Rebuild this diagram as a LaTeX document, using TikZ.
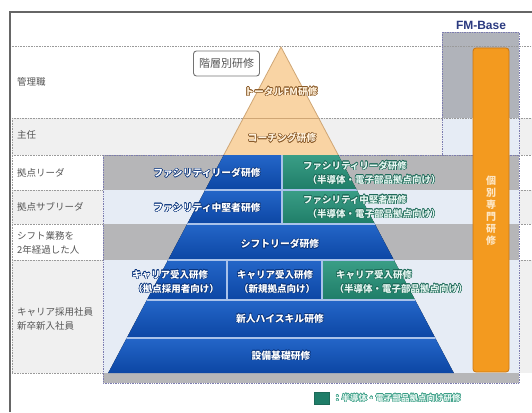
\documentclass[tikz,border=0pt]{standalone}
\usepackage{fontspec}
\setmainfont{Noto Sans CJK JP}
\newfontfamily\latf{Liberation Sans}
\usepackage{contour}
\contourlength{0.5pt}
\contournumber{16}
\usetikzlibrary{calc}
\definecolor{bluT}{HTML}{2466C8}
\definecolor{bluB}{HTML}{0C46A4}
\definecolor{bluO}{HTML}{0A357E}
\definecolor{grnT}{HTML}{3A9E86}
\definecolor{grnB}{HTML}{1F7D68}
\definecolor{grnO}{HTML}{1C6A58}
\definecolor{grnL}{HTML}{E6F6F1}
\definecolor{peach}{HTML}{F9D4A4}
\definecolor{peachline}{HTML}{CFA675}
\definecolor{peachO}{HTML}{8A5A28}
\definecolor{peachL}{HTML}{FFF1DC}
\definecolor{gstripe}{HTML}{B6B6B8}
\definecolor{lstripe}{HTML}{E6ECF5}
\definecolor{lrow}{HTML}{F0F0F0}
\definecolor{fmgray}{HTML}{B0B3BA}
\definecolor{dotc}{HTML}{7C7CB0}
\definecolor{dotg}{HTML}{9A9A9A}
\definecolor{orangeF}{HTML}{F39A1F}
\definecolor{orangeD}{HTML}{C97612}
\definecolor{orangeL}{HTML}{FDE6C4}
\definecolor{navy}{HTML}{2B3A80}
\definecolor{lbl}{HTML}{555555}
\definecolor{sepc}{HTML}{A9C2EA}
\begin{document}
\begin{tikzpicture}[x=1pt,y=-1pt,
  lbltxt/.style={anchor=west,inner sep=0,text=lbl,font=\fontsize{9.5}{14}\selectfont,align=left},
  btxt/.style={inner sep=0,text=white,font=\bfseries\fontsize{9.8}{11}\selectfont},
  gtxt/.style={inner sep=0,text=grnL,font=\bfseries\fontsize{9.5}{11}\selectfont},
  ptxt/.style={inner sep=0,text=peachL,font=\bfseries\fontsize{9.8}{11}\selectfont},
  dotline/.style={dotg,densely dotted,line width=0.6pt},
  dotbox/.style={dotc,densely dotted,line width=0.7pt},
  sepline/.style={sepc,line width=1.1pt}]
\useasboundingbox (0,0) rectangle (532,412);
% ---------- background rows ----------
\fill[lrow] (12,118) rectangle (532,155);
\fill[lrow] (12,190) rectangle (103,224);
\fill[lrow] (12,260) rectangle (103,373);
\fill[lrow] (519,190) rectangle (532,224);
\fill[lrow] (519,260) rectangle (532,373);
\fill[gstripe] (103,155) rectangle (519,190);
\fill[lstripe] (103,190) rectangle (519,224);
\fill[gstripe] (103,224) rectangle (519,260);
\fill[lstripe] (103,260) rectangle (519,373);
\fill[gstripe] (103,373) rectangle (519,383);
\fill[fmgray] (442,32) rectangle (519,118);
\fill[lstripe] (442,118) rectangle (519,155);
% ---------- dotted rules ----------
\draw[dotline] (10,46) -- (532,46);
\draw[dotline] (12,118) -- (532,118);
\draw[dotline] (12,155) -- (532,155);
\foreach \yy in {190,224,260} {
  \draw[dotline] (12,\yy) -- (103,\yy);
  \draw[dotline] (519,\yy) -- (532,\yy);
}
\draw[dotline] (12,373) -- (103,373);
\draw[dotline] (12,118) -- (12,373);
\draw[dotbox] (103,155) rectangle (519,383);
\draw[dotbox] (442,155) -- (442,32) -- (519,32) -- (519,155);
% ---------- outer frame ----------
\draw[line width=1.4pt,black!60] (10,412) -- (10,12) -- (532,12);
% ---------- pyramid ----------
\coordinate (apex) at (281,47);
\coordinate (bl) at (108.2,373);
\coordinate (br) at (453.8,373);
\begin{scope}
  \clip (apex) -- (bl) -- (br) -- cycle;
  \fill[peach] (100,40) rectangle (460,155);
  \fill[top color=bluT,bottom color=bluB] (100,155) rectangle (282,190);
  \fill[top color=grnT,bottom color=grnB] (282,155) rectangle (460,190);
  \fill[top color=bluT,bottom color=bluB] (100,190) rectangle (282,224);
  \fill[top color=grnT,bottom color=grnB] (282,190) rectangle (460,224);
  \fill[top color=bluT,bottom color=bluB] (100,224) rectangle (460,260);
  \fill[top color=bluT,bottom color=bluB] (100,260) rectangle (322,300);
  \fill[top color=grnT,bottom color=grnB] (322,260) rectangle (460,300);
  \fill[top color=bluT,bottom color=bluB] (100,300) rectangle (460,338);
  \fill[top color=bluT,bottom color=bluB] (100,338) rectangle (460,373);
  \draw[peachline,line width=0.8pt] (100,118) -- (460,118);
  \foreach \yy in {190,224,260,300,338} \draw[sepline] (100,\yy) -- (460,\yy);
  \draw[sepline] (282,155) -- (282,224);
  \draw[sepline] (227,260) -- (227,300);
  \draw[sepline] (322,260) -- (322,300);
\end{scope}
\draw[peachline,line width=0.8pt] (223.8,155) -- (apex) -- (338.2,155);
% ---------- pyramid texts ----------
\node[ptxt] (p1) at (281,92) {\contour{peachO}{トータルFM研修}};
\node[ptxt] (p2) at (282,138) {\contour{peachO}{コーチング研修}};
\node[btxt] (b1) at (207,173) {\contour{bluO}{ファシリティリーダ研修}};
\node[gtxt] (g1a) at (355,166) {\contour{grnO}{ファシリティリーダ研修}};
\node[gtxt] (g1b) at (374,180) {\contour{grnO}{（半導体・電子部品拠点向け）}};
\node[btxt] (b2) at (207,208) {\contour{bluO}{ファシリティ中堅者研修}};
\node[gtxt] (g2a) at (355,200) {\contour{grnO}{ファシリティ中堅者研修}};
\node[gtxt] (g2b) at (374,214) {\contour{grnO}{（半導体・電子部品拠点向け）}};
\node[btxt] (b3) at (280,244) {\contour{bluO}{シフトリーダ研修}};
\node[btxt,font=\bfseries\fontsize{9.5}{11}\selectfont] (c1a) at (170,275) {\contour{bluO}{キャリア受入研修}};
\node[btxt,font=\bfseries\fontsize{9.5}{11}\selectfont] (c1b) at (176,289) {\contour{bluO}{（拠点採用者向け）}};
\node[btxt,font=\bfseries\fontsize{9.5}{11}\selectfont] (c2a) at (275,275) {\contour{bluO}{キャリア受入研修}};
\node[btxt,font=\bfseries\fontsize{9.5}{11}\selectfont] (c2b) at (277,289) {\contour{bluO}{（新規拠点向け）}};
\node[gtxt] (c3a) at (374,275) {\contour{grnO}{キャリア受入研修}};
\node[gtxt] (c3b) at (401,289) {\contour{grnO}{（半導体・電子部品拠点向け）}};
\node[btxt] (b4) at (280,319) {\contour{bluO}{新人ハイスキル研修}};
\node[btxt] (b5) at (281,356) {\contour{bluO}{設備基礎研修}};
% ---------- header box ----------
\node[draw=black!55,rounded corners=3pt,line width=0.9pt,text=lbl,
      font=\fontsize{11}{12}\selectfont,minimum width=66,minimum height=25,inner sep=2]
      (kaiso) at (226.5,63.5) {階層別研修};
% ---------- left labels ----------
\node[lbltxt] (l1) at (17,82) {管理職};
\node[lbltxt] (l2) at (17,135) {主任};
\node[lbltxt] (l3) at (17,173) {拠点リーダ};
\node[lbltxt] (l4) at (17,207) {拠点サブリーダ};
\node[lbltxt] (l5) at (17,243) {シフト業務を\\2年経過した人};
\node[lbltxt] (l6) at (17,319) {キャリア採用社員\\新卒新入社員};
% ---------- FM-Base ----------
\node[inner sep=0,text=navy,font=\latf\bfseries\fontsize{12}{13}\selectfont] (fmb) at (481,25) {FM-Base};
\draw[fill=orangeF,draw=orangeD,line width=0.8pt,rounded corners=3pt] (473,48) rectangle (509,372);
\node[inner sep=0,text=orangeL,align=center,font=\bfseries\fontsize{10}{12}\selectfont] (kobetsu) at (491,211)
  {個\\別\\専\\門\\研\\修};
% ---------- legend ----------
\node[draw=grnO,fill=grnB,minimum width=15,minimum height=12,inner sep=0] (sw) at (321.5,398.5) {};
\node[anchor=west,inner sep=0,text=grnL,font=\bfseries\fontsize{8.5}{10}\selectfont] (legt) at (333,398.5)
  {\contour{grnT}{：半導体・電子部品拠点向け研修}};
\end{tikzpicture}
\end{document}
